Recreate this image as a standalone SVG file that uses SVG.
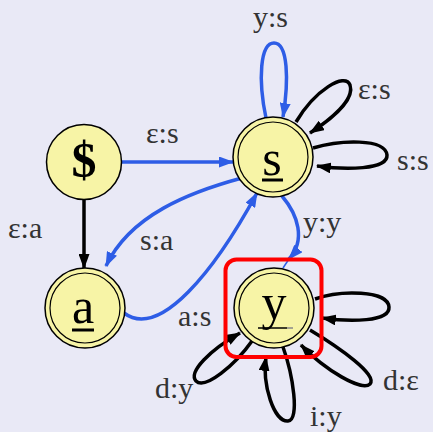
<svg xmlns="http://www.w3.org/2000/svg" width="433" height="432" viewBox="0 0 433 432">
<defs>
<marker id="ab" markerUnits="userSpaceOnUse" markerWidth="15" markerHeight="11" refX="14" refY="5.5" orient="auto"><path d="M0,0 L15,5.5 L0,11 z" fill="#000"/></marker>
<marker id="au" markerUnits="userSpaceOnUse" markerWidth="15" markerHeight="11" refX="14" refY="5.5" orient="auto"><path d="M0,0 L15,5.5 L0,11 z" fill="#2E5DE6"/></marker>
<style>
.n{fill:#F7F4A6;stroke:#000;stroke-width:1.5}
.ni{fill:none;stroke:#000;stroke-width:1.2}
.nt{font-family:"Liberation Serif",serif;font-size:50px;fill:#000;text-anchor:middle}
.lb{font-family:"Liberation Serif",serif;font-size:30px;fill:#333}
.eb{fill:none;stroke:#000;stroke-width:3.5}
.eu{fill:none;stroke:#2E5DE6;stroke-width:3.5}
</style>
</defs>
<rect width="433" height="432" fill="#E9E9F6"/>
<g id="connectors">
<path class="eu" d="M122,162 L233,162" marker-end="url(#au)"/>
<path class="eb" d="M84,199 L84,268" marker-end="url(#ab)"/>
<path class="eu" d="M242,178 C190,192 130,215 106,266" marker-end="url(#au)"/>
<path class="eu" d="M124,313 C160,340 215,270 257,193" marker-end="url(#au)"/>
<path class="eu" d="M282,196 C298,215 306,240 289,259" marker-end="url(#au)"/>
<path d="M289,259 L283,268" stroke="#2E5DE6" stroke-width="1.5"/>
<path class="eu" d="M266,118 C258,80 260,43 274,43 C288,43 289,80 283,117" marker-end="url(#au)"/>
<path class="eb" d="M296,122 C315,90 345,72 350,85 C355,100 330,120 310,133" marker-end="url(#ab)"/>
<path class="eb" d="M313,148 C340,140 385,138 387,155 C388,170 345,170 317,166" marker-end="url(#ab)"/>
<path class="eb" d="M315,299 C340,290 388,290 389,307 C390,322 350,322 322,318" marker-end="url(#ab)"/>
<path class="eb" d="M310,330 C340,348 378,375 370,384 C362,392 325,370 301,345" marker-end="url(#ab)"/>
<path class="eb" d="M283,347 C293,375 300,420 288,421 C274,422 262,385 266,357" marker-end="url(#ab)"/>
<path class="eb" d="M252,341 C235,365 205,390 196,381 C188,372 210,350 240,333" marker-end="url(#ab)"/>
</g>
<g id="labels">
<text class="lb" x="253" y="27">y:s</text>
<text class="lb" x="358" y="99">ε:s</text>
<text class="lb" x="397" y="170">s:s</text>
<text class="lb" x="146" y="143">ε:s</text>
<text class="lb" x="8" y="238">ε:a</text>
<text class="lb" x="140" y="250">s:a</text>
<text class="lb" x="303" y="232">y:y</text>
<text class="lb" x="178" y="326">a:s</text>
<text class="lb" x="155" y="398">d:y</text>
<text class="lb" x="383" y="390">d:ε</text>
<text class="lb" x="310" y="426">i:y</text>
</g>
<g id="node-dollar">
<circle class="n" cx="84" cy="162" r="37.5"/>
<text class="nt" x="84" y="177" font-size="42" font-weight="bold">$</text>
</g>
<g id="node-s">
<circle class="n" cx="273" cy="157" r="40"/>
<circle class="ni" cx="273" cy="157" r="35"/>
<text class="nt" x="272" y="175">s</text>
<line x1="262" y1="180" x2="283" y2="180" stroke="#000" stroke-width="3"/>
</g>
<g id="node-a">
<circle class="n" cx="85" cy="308" r="40"/>
<circle class="ni" cx="85" cy="308" r="35"/>
<text class="nt" x="83" y="323">a</text>
<line x1="72" y1="330" x2="94" y2="330" stroke="#000" stroke-width="3"/>
</g>
<g id="node-y">
<circle class="n" cx="274" cy="308" r="40"/>
<circle class="ni" cx="274" cy="308" r="35"/>
<text class="nt" x="274" y="319">y</text>
<line x1="258" y1="328" x2="287" y2="328" stroke="#000" stroke-width="1.5"/>
<line x1="287" y1="328" x2="293" y2="328" stroke="#888" stroke-width="1.5"/>
<rect x="225.5" y="259.5" width="96" height="97.5" rx="11" fill="none" stroke="#F00" stroke-width="4"/>
</g>
</svg>
